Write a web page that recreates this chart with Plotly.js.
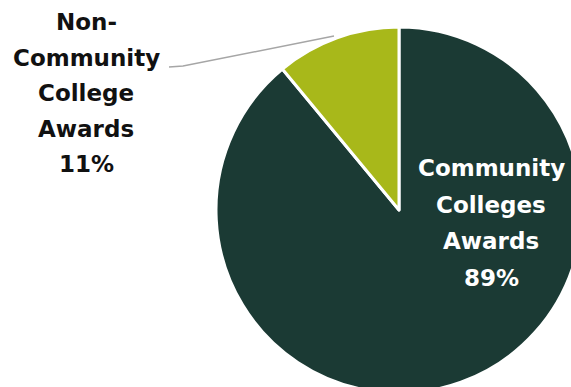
<!DOCTYPE html>
<html><head><meta charset="utf-8">
<script src="https://cdn.plot.ly/plotly-3.0.1.min.js"></script>
<style>html,body{margin:0;padding:0;overflow:hidden;background:#fff;width:571px;height:387px}</style>
</head><body>
<div id="chart" style="width:600px;height:400px"></div>
<script>
const labels = ["Community Colleges Awards", "Non-Community College Awards"];
const values = [89, 11];
const colors = ["#1b3a34", "#a8b81a"];
const labelLines = [["Community", "Colleges", "Awards", "89%"], ["Non-", "Community", "College", "Awards", "11%"]];

const W = 600, H = 400;
const px = x => x / W, py = y => 1 - y / H;

const annotations = [];
const fontFam = "DejaVu Sans, sans-serif";
// inside label (dark slice)
labelLines[0].forEach((t, i) => annotations.push({
  x: px(491), y: py(168 + i * 36.5), xref: "paper", yref: "paper", text: "<b>" + t + "</b>",
  showarrow: false, xanchor: "center", yanchor: "middle",
  font: {family: fontFam, size: 23, color: "#ffffff"}
}));
// outside label (green slice)
labelLines[1].forEach((t, i) => annotations.push({
  x: px(86), y: py(22 + i * 35.5), xref: "paper", yref: "paper", text: "<b>" + t + "</b>",
  showarrow: false, xanchor: "center", yanchor: "middle",
  font: {family: fontFam, size: 23, color: "#111111"}
}));

const data = [{
  type: "pie", labels: labels, values: values, sort: false, direction: "clockwise", rotation: 0,
  marker: {colors: colors, line: {color: "#ffffff", width: 3}},
  textinfo: "none", hoverinfo: "label+percent",
  domain: {x: [216 / W, 582 / W], y: [1 - 393 / H, 1 - 27 / H]}
}];

const layout = {
  width: W, height: H, margin: {l: 0, r: 0, t: 0, b: 0}, showlegend: false,
  paper_bgcolor: "#ffffff",
  annotations: annotations,
  shapes: [{type: "path", xref: "paper", yref: "paper",
    path: `M ${px(169)},${py(67)} L ${px(183)},${py(66)} L ${px(334)},${py(36)}`,
    line: {color: "#a6a6a6", width: 1.5}}]
};
Plotly.newPlot("chart", data, layout, {staticPlot: true, displayModeBar: false});
</script>
</body></html>
